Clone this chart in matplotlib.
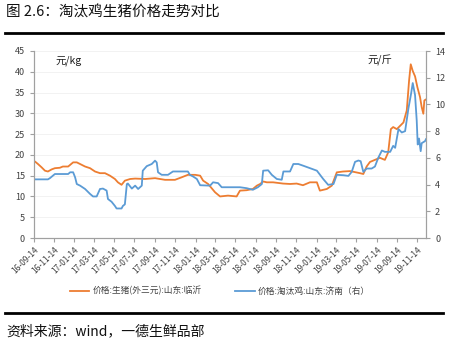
import matplotlib
matplotlib.use("Agg")
import matplotlib.pyplot as plt
import pandas as pd

plt.rcParams['font.family'] = ['Noto Sans CJK SC', 'DejaVu Sans']

# 生猪(外三元) 山东临沂，元/kg（左轴）
pig_dates = ["2016-09-14", "2016-09-17", "2016-09-26", "2016-10-07", "2016-10-17", "2016-10-26",
             "2016-11-06", "2016-11-16", "2016-12-01", "2016-12-10", "2016-12-26", "2017-01-10",
             "2017-01-21", "2017-01-31", "2017-02-15", "2017-03-02", "2017-03-17", "2017-04-01",
             "2017-04-16", "2017-05-01", "2017-05-16", "2017-05-25", "2017-06-05", "2017-06-15",
             "2017-07-01", "2017-07-16", "2017-08-15", "2017-09-14", "2017-10-14", "2017-11-13",
             "2017-12-03", "2017-12-22", "2018-01-13", "2018-01-28", "2018-02-06", "2018-02-21",
             "2018-03-14", "2018-03-29", "2018-04-22", "2018-05-18", "2018-05-28", "2018-06-17",
             "2018-07-06", "2018-07-18", "2018-07-28", "2018-08-06", "2018-08-17", "2018-09-05",
             "2018-10-05", "2018-10-26", "2018-11-15", "2018-12-04", "2018-12-25", "2019-01-15",
             "2019-01-24", "2019-02-14", "2019-03-01", "2019-03-16", "2019-04-04", "2019-04-25",
             "2019-05-25", "2019-06-04", "2019-06-14", "2019-06-24", "2019-07-09", "2019-07-24",
             "2019-08-08", "2019-08-18", "2019-08-26", "2019-09-02", "2019-09-13", "2019-09-23",
             "2019-10-03", "2019-10-13", "2019-10-20", "2019-10-25", "2019-10-31", "2019-11-07",
             "2019-11-14", "2019-11-22", "2019-11-27", "2019-12-02", "2019-12-05", "2019-12-09"]
pig_price = [18.2, 18.4, 17.8, 17.0, 16.2, 16.0,
             16.5, 16.8, 16.9, 17.2, 17.2, 18.2,
             18.2, 17.8, 17.2, 16.8, 16.0, 15.6,
             15.6, 15.0, 14.2, 13.4, 12.8, 13.8,
             14.2, 14.3, 14.2, 14.4, 14.0, 14.0,
             14.6, 15.2, 15.2, 15.0, 13.8, 13.0,
             11.0, 10.0, 10.2, 10.0, 11.4, 11.5,
             11.8, 12.6, 13.0, 13.6, 13.4, 13.4,
             13.1, 13.0, 13.1, 12.7, 13.4, 13.4,
             11.4, 11.8, 12.6, 15.8, 16.0, 16.1,
             15.6, 15.4, 17.2, 18.3, 18.8, 19.3,
             18.8, 20.6, 26.2, 26.7, 26.2, 27.0,
             27.8, 30.7, 37.9, 41.8, 40.2, 38.9,
             36.3, 33.9, 31.5, 29.9, 33.1, 33.3]

# 淘汰鸡 山东济南，元/斤（右轴）
hen_dates = ["2016-09-14", "2016-10-26", "2016-11-01", "2016-11-16", "2016-12-26", "2017-01-01",
             "2017-01-10", "2017-01-16", "2017-01-21", "2017-01-31", "2017-02-15", "2017-03-02",
             "2017-03-11", "2017-03-22", "2017-04-01", "2017-04-10", "2017-04-21", "2017-04-25",
             "2017-05-06", "2017-05-16", "2017-05-21", "2017-06-05", "2017-06-09", "2017-06-15",
             "2017-06-21", "2017-06-24", "2017-07-06", "2017-07-16", "2017-07-25", "2017-08-05",
             "2017-08-08", "2017-08-20", "2017-09-04", "2017-09-14", "2017-09-19", "2017-09-23",
             "2017-10-04", "2017-10-23", "2017-11-07", "2017-12-22", "2017-12-28", "2018-01-07",
             "2018-01-18", "2018-01-28", "2018-02-27", "2018-03-08", "2018-03-23", "2018-04-03",
             "2018-05-28", "2018-06-17", "2018-07-06", "2018-07-21", "2018-08-02", "2018-08-06",
             "2018-08-21", "2018-09-01", "2018-09-16", "2018-10-01", "2018-10-06", "2018-10-26",
             "2018-11-05", "2018-11-20", "2018-12-05", "2018-12-25", "2019-01-15", "2019-02-03",
             "2019-02-18", "2019-03-06", "2019-03-16", "2019-04-05", "2019-04-20", "2019-04-30",
             "2019-05-10", "2019-05-20", "2019-05-27", "2019-06-04", "2019-06-14", "2019-06-29",
             "2019-07-09", "2019-07-19", "2019-07-30", "2019-08-08", "2019-08-24", "2019-09-02",
             "2019-09-08", "2019-09-18", "2019-09-28", "2019-10-08", "2019-10-18", "2019-10-26",
             "2019-10-31", "2019-11-07", "2019-11-12", "2019-11-15", "2019-11-19", "2019-11-24",
             "2019-11-27", "2019-12-07", "2019-12-10"]
hen_price = [4.39, 4.39, 4.48, 4.79, 4.79, 4.92,
             4.92, 4.54, 4.04, 3.92, 3.67, 3.30,
             3.11, 3.11, 3.67, 3.70, 3.55, 2.92,
             2.71, 2.40, 2.21, 2.21, 2.40, 2.52,
             4.04, 4.08, 3.70, 3.92, 3.67, 3.92,
             5.04, 5.38, 5.54, 5.79, 5.66, 4.92,
             4.73, 4.73, 4.98, 4.98, 4.73, 4.60,
             4.42, 3.95, 3.92, 4.17, 4.11, 3.80,
             3.80, 3.73, 3.61, 3.80, 4.04, 5.04,
             5.07, 4.73, 4.42, 4.36, 4.98, 4.98,
             5.54, 5.54, 5.41, 5.23, 5.04, 4.42,
             3.98, 4.04, 4.73, 4.70, 4.65, 4.95,
             5.70, 5.80, 5.75, 4.95, 5.20, 5.20,
             5.35, 6.00, 6.55, 6.45, 6.45, 6.90,
             6.75, 8.15, 7.90, 8.00, 9.70, 10.8,
             11.6, 10.7, 8.80, 7.00, 7.45, 6.50,
             7.10, 7.25, 7.40]

tick_labels = ["16-09-14", "16-11-14", "17-01-14", "17-03-14", "17-05-14", "17-07-14", "17-09-14",
               "17-11-14", "18-01-14", "18-03-14", "18-05-14", "18-07-14", "18-09-14", "18-11-14",
               "19-01-14", "19-03-14", "19-05-14", "19-07-14", "19-09-14", "19-11-14"]

pig_label = "价格:生猪(外三元):山东:临沂"
hen_label = "价格:淘汰鸡:山东:济南（右）"

orange = "#ED7D31"
blue = "#5B9BD5"
txt = "#404040"

fig = plt.figure(figsize=(4.54, 3.46), dpi=100)
ax = fig.add_axes([34 / 454, 1 - 238 / 346, (426 - 34) / 454, (238 - 51) / 346])
ax2 = ax.twinx()

ax.plot(pd.to_datetime(pig_dates), pig_price, color=orange, lw=1.3, label=pig_label)
ax2.plot(pd.to_datetime(hen_dates), hen_price, color=blue, lw=1.3, label=hen_label)

ax.set_ylim(0, 45)
ax.set_yticks(range(0, 46, 5))
ax2.set_ylim(0, 14)
ax2.set_yticks(range(0, 15, 2))
ax.set_xlim(pd.Timestamp("2016-09-14"), pd.Timestamp("2019-12-10"))

ticks = pd.to_datetime(tick_labels, format="%y-%m-%d")
ax.set_xticks(ticks)
ax.set_xticklabels(tick_labels, rotation=45, ha="right", rotation_mode="anchor",
                   fontsize=6, color=txt)
ax.tick_params(axis="x", length=3, color="#a0a0a0", pad=2)
ax.tick_params(axis="y", labelsize=6.5, colors=txt, length=3, color="#a0a0a0")
ax2.tick_params(axis="y", labelsize=6.5, colors=txt, length=3, color="#a0a0a0")
for a in (ax, ax2):
    a.spines["top"].set_visible(False)
    for s in ("left", "right", "bottom"):
        a.spines[s].set_color("#a0a0a0")
        a.spines[s].set_linewidth(0.8)
ax.yaxis.grid(True, color="#f0f0f0", lw=0.6)
ax.set_axisbelow(True)

ax.text(0.055, 0.95, "元/kg", transform=ax.transAxes, fontsize=7.5, color="#202020", va="center")
ax.text(0.85, 0.95, "元/斤", transform=ax.transAxes, fontsize=7.5, color="#202020", va="center")

h1, l1 = ax.get_legend_handles_labels()
h2, l2 = ax2.get_legend_handles_labels()
fig.legend(h1 + h2, l1 + l2, loc="center", bbox_to_anchor=(0.485, 1 - 291 / 346), ncol=2,
           frameon=False, fontsize=6.3, handlelength=2.2, handletextpad=0.4,
           columnspacing=3.8, labelcolor=txt)

fig.text(6 / 454, 1 - 13 / 346, "图 2.6：淘汰鸡生猪价格走势对比", fontsize=10.5, va="center",
         color="#111111", fontweight="medium")
fig.add_artist(plt.Line2D([5 / 454, 443 / 454], [1 - 33 / 346] * 2, color="black", lw=2))
fig.add_artist(plt.Line2D([5 / 454, 443 / 454], [1 - 313 / 346] * 2, color="black", lw=2))
fig.text(6 / 454, 1 - 331 / 346, "资料来源：wind，一德生鲜品部", fontsize=10, va="center",
         color="#111111")

fig.savefig("out.png", dpi=100)
